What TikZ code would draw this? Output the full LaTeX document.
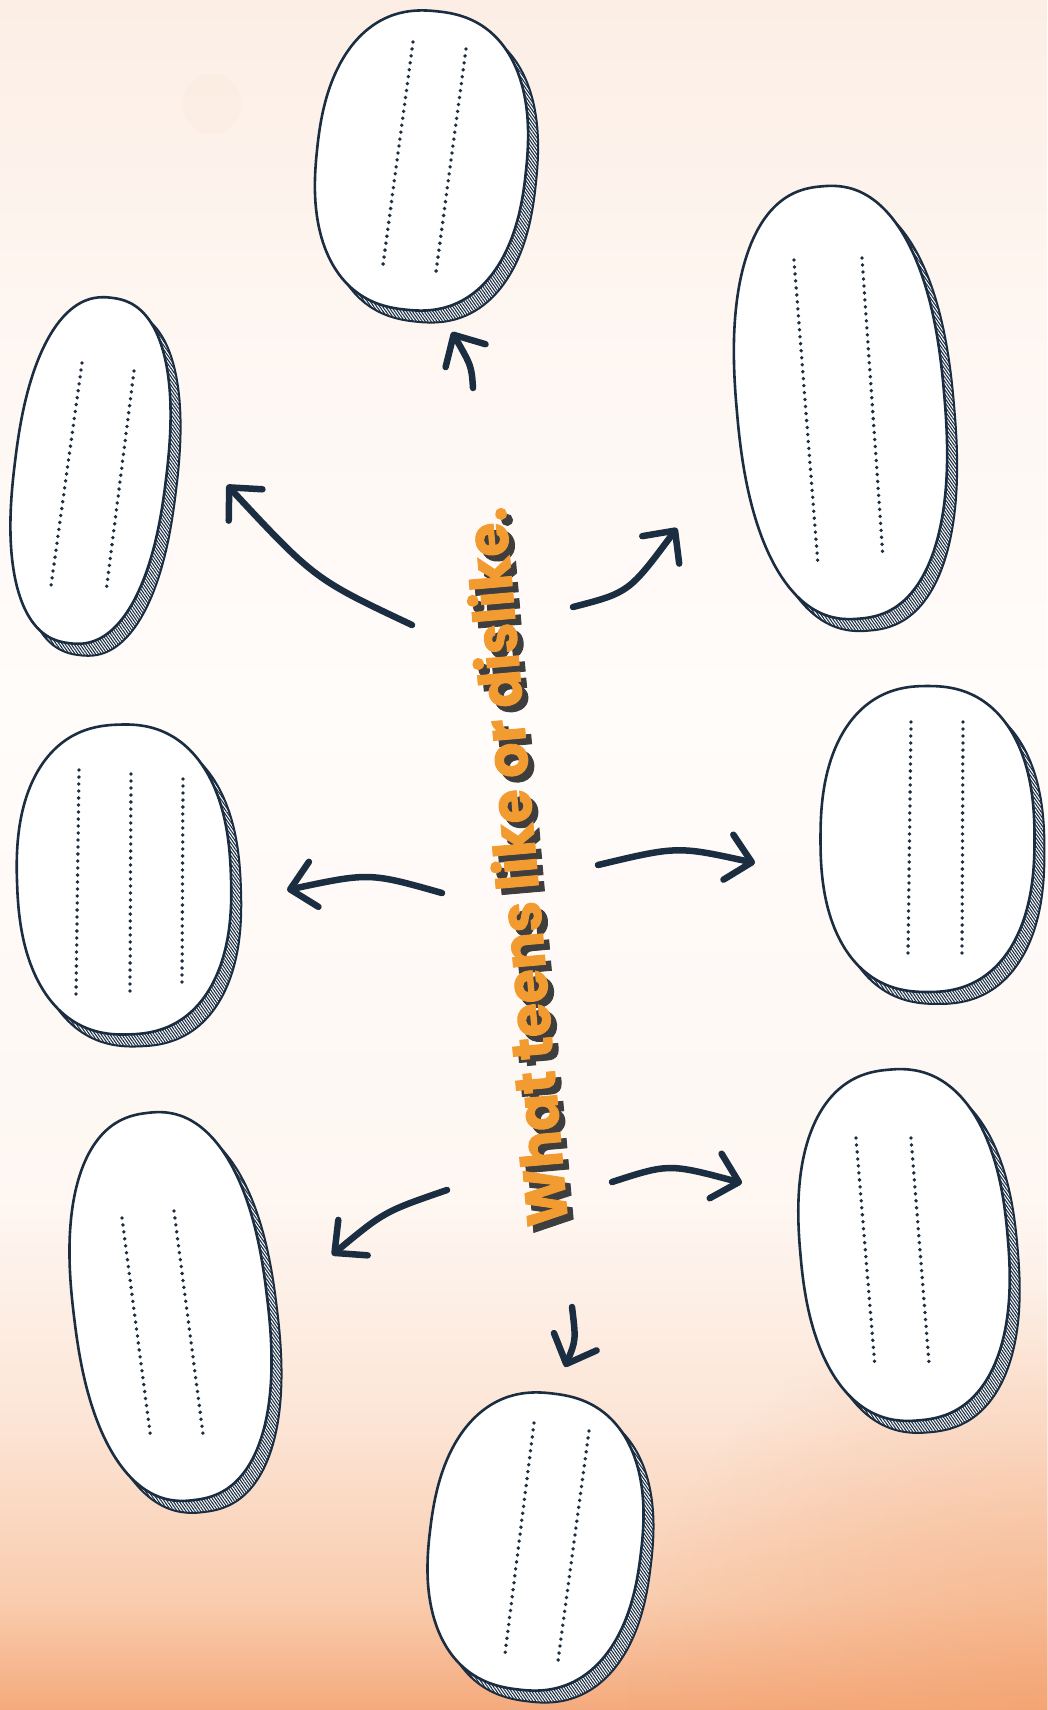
\documentclass[tikz,border=0pt]{standalone}
\usepackage{fontspec}
\usetikzlibrary{arrows.meta,patterns.meta,fadings}
\newfontfamily\titlefont{Poppins}[BoldFeatures={FakeBold=1.6}]
\definecolor{ink}{HTML}{1B2D41}
\definecolor{orng}{HTML}{F29B31}
\definecolor{shad}{HTML}{3E3E3E}
\definecolor{bgA}{HTML}{F5AA7C}
\definecolor{bgB}{HTML}{F9CCAE}
\definecolor{bgC}{HTML}{FCE5D6}
\definecolor{bgD}{HTML}{FEF7F2}
\definecolor{bgE}{HTML}{FFFCFA}
\definecolor{bgF}{HTML}{FEF6F1}
\definecolor{bgG}{HTML}{FCEEE5}
\definecolor{blot}{HTML}{F3A06C}
\pgfdeclareverticalshading{bgshade}{100bp}{color(0bp)=(bgA); color(25bp)=(bgA); color(28.2bp)=(bgB); color(33.5bp)=(bgC); color(39.9bp)=(bgD); color(54.5bp)=(bgE); color(66bp)=(bgF); color(75bp)=(bgG); color(100bp)=(bgG)}
\tikzfading[name=softc, inner color=transparent!50, outer color=transparent!100]
% blob: cx cy a b rot
\newcommand\blob[5]{%
  \begin{scope}[shift={(#1+10,#2+12)},rotate=#5]
    \fill[white] plot[smooth cycle,variable=\t,domain=2.5:357.5,samples=72] ({#3*cos(\t)*abs(cos(\t))^(-0.15)},{#4*sin(\t)*abs(sin(\t))^(-0.15)});
    \filldraw[blobshadow] plot[smooth cycle,variable=\t,domain=2.5:357.5,samples=72] ({#3*cos(\t)*abs(cos(\t))^(-0.15)},{#4*sin(\t)*abs(sin(\t))^(-0.15)});
  \end{scope}
  \begin{scope}[shift={(#1,#2)},rotate=#5]
    \filldraw[blobface] plot[smooth cycle,variable=\t,domain=2.5:357.5,samples=72] ({#3*cos(\t)*abs(cos(\t))^(-0.15)},{#4*sin(\t)*abs(sin(\t))^(-0.15)});
  \end{scope}}
\begin{document}
\begin{tikzpicture}[x=1pt,y=-1pt,
  blobshadow/.style={draw=ink,line width=2pt,pattern={Lines[angle=-55,distance=2.4pt,line width=1.1pt]},pattern color=ink},
  blobface/.style={fill=white,draw=ink,line width=2.6pt},
  dotline/.style={draw=ink,line width=3.8pt,line cap=round,dash pattern=on 0pt off 7pt},
  arr/.style={draw=ink,line width=6.5pt,line cap=round,-{Straight Barb[length=24pt,width=46pt,round]}},
  titletext/.style={rotate=95,inner sep=0pt}]
\useasboundingbox (0,0) rectangle (1047,1710);
\shade[shading=bgshade] (0,0) rectangle (1047,1710);
\fill[blot,path fading=softc] (1047,1710) circle (420);
\fill[blot,opacity=0.035] (212,104) circle (30);

% blobs
\blob{421.5}{160.5}{105}{150}{-6}
\blob{90.5}{470.5}{76}{174}{-7}
\blob{840.5}{402.5}{104}{217}{5}
\blob{124}{879.5}{107}{155}{2}
\blob{927.5}{839}{107}{153}{0}
\blob{170.5}{1306.5}{97}{195}{7}
\blob{904}{1245}{104}{176}{5}
\blob{535.5}{1541.5}{106}{149}{-7}

% dotted writing lines
\draw[dotline] (413,42) -- (383,265);
\draw[dotline] (466,49) -- (436,272);
\draw[dotline] (82,363) -- (51,586);
\draw[dotline] (134,371) -- (106,592);
\draw[dotline] (794,260) -- (818,565);
\draw[dotline] (862,258) -- (883,558);
\draw[dotline] (79,770) -- (76,995);
\draw[dotline] (131,774) -- (130,992);
\draw[dotline] (183,779) -- (182,988);
\draw[dotline] (911,722) -- (908,955);
\draw[dotline] (963,722) -- (962,958);
\draw[dotline] (122,1218) -- (151,1440);
\draw[dotline] (174,1211) -- (203,1434);
\draw[dotline] (856,1138) -- (875,1367);
\draw[dotline] (911,1138) -- (929,1363);
\draw[dotline] (534,1423) -- (505,1654);
\draw[dotline] (589,1431) -- (558,1661);

% title
\node[titletext,text=shad] (titleshadow) at (520,873) {\resizebox{721pt}{46pt}{\titlefont\bfseries What teens like or dislike.}};
\node[titletext,text=orng] (title) at (514,867) {\resizebox{721pt}{46pt}{\titlefont\bfseries What teens like or dislike.}};

% arrow end points
\coordinate (s1) at (473,388);  \coordinate (e1) at (452,332);
\coordinate (s2) at (412,625);  \coordinate (e2) at (227,485);
\coordinate (s3) at (573,607);  \coordinate (e3) at (677,528);
\coordinate (s4) at (442,893);  \coordinate (e4) at (287,890);
\coordinate (s5) at (598,865);  \coordinate (e5) at (755,863);
\coordinate (s6) at (447,1190); \coordinate (e6) at (332,1255);
\coordinate (s7) at (612,1182); \coordinate (e7) at (742,1183);
\coordinate (s8) at (572,1307); \coordinate (e8) at (565,1367);

\draw[arr] (s1) .. controls (471.5,366) .. (e1);
\draw[arr] (s2) .. controls (314.5,579) .. (e2);
\draw[arr] (s3) .. controls (629,592.5) .. (e3);
\draw[arr] (s4) .. controls (369.5,872.5) .. (e4);
\draw[arr] (s5) .. controls (677.5,846) .. (e5);
\draw[arr] (s6) .. controls (384.5,1211.5) .. (e6);
\draw[arr] (s7) .. controls (669,1163.5) .. (e7);
\draw[arr] (s8) .. controls (576,1340) .. (e8);
\end{tikzpicture}
\end{document}
